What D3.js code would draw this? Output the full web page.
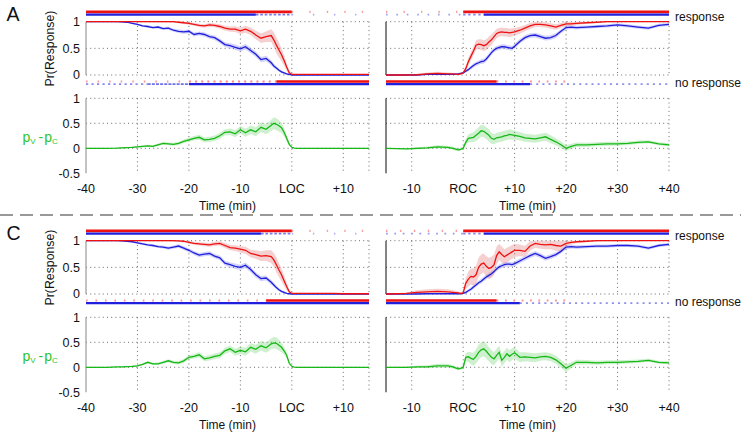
<!DOCTYPE html>
<html><head><meta charset="utf-8">
<script src="https://cdn.jsdelivr.net/npm/d3@7"></script>
<style>body{margin:0;background:#fff} svg{display:block}</style>
</head><body><svg id="c" width="741" height="434"></svg>
<script>
// ---------- data ----------
const timeLeft = [-40,-38,-36,-34,-33,-32,-31,-30,-29,-28,-27,-26,-25,-24,-23,-22,-21,-20,-19,-18,-17,-16,-15,-14,-13,-12,-11,-10,-9,-8,-7,-6,-5,-4,-3.5,-3,-2.5,-2,-1.5,-1,-0.5,0,0.5,1,2,4,6,8,10,12,15];
const timeRight = [-15,-13,-11,-9,-7,-5,-3,-2,-1,-0.5,0,0.5,1,1.5,2,2.5,3,3.5,4,4.5,5,5.5,6,6.5,7,7.5,8,8.5,9,9.5,10,11,12,13,14,15,16,17,18,19,20,21,22,24,26,28,30,32,34,36,38,40];
const xTicksLeft = [-40,-30,-20,-10,0,10];
const xTickLabelsLeft = ["-40","-30","-20","-10","LOC","+10"];
const xTicksRight = [-10,0,10,20,30,40];
const xTickLabelsRight = ["-10","ROC","+10","+20","+30","+40"];
const yTicksTop = [0,0.5,1];
const yTickLabelsTop = ["0","0.5","1"];
const yTicksBottom = [-0.5,0,0.5,1];
const yTickLabelsBottom = ["-0.5","0","0.5","1"];
const panelLabels = ["A","C"];

// Panel A, left (aligned to LOC)
const A_L_red = [1,1,1,1,1,1,1,1,1,1, 1,1,1,1,1,0.99,0.98,0.97,0.95,0.93, 0.92,0.94,0.93,0.91,0.88,0.86,0.86,0.83,0.86,0.82, 0.75,0.69,0.72,0.74,0.66,0.56,0.47,0.38,0.27,0.15, 0.04,0.01,0.01,0.01,0.01,0.01,0.01,0.01,0.01,0.01,0.01];
const A_L_redErr = [0,0,0.002,0.004,0.005,0.006,0.007,0.008,0.01,0.01, 0.012,0.014,0.015,0.016,0.018,0.02,0.022,0.025,0.027,0.03, 0.032,0.034,0.036,0.04,0.045,0.05,0.055,0.06,0.065,0.07, 0.08,0.09,0.1,0.12,0.14,0.15,0.14,0.12,0.1,0.07, 0.04,0.015,0.008,0.006,0.005,0.005,0.005,0.005,0.005,0.005,0.005];
const A_L_blue = [1,1,1,1,0.995,0.99,0.97,0.95,0.92,0.91, 0.89,0.9,0.87,0.88,0.84,0.82,0.81,0.82,0.76,0.78, 0.76,0.72,0.7,0.64,0.57,0.55,0.52,0.49,0.53,0.46, 0.39,0.29,0.31,0.23,0.17,0.13,0.09,0.06,0.04,0.02, 0.01,0,0,0,0,0,0,0,0,0,0];
const A_L_blueErr = [0,0.002,0.004,0.006,0.008,0.01,0.013,0.016,0.02,0.022, 0.024,0.026,0.028,0.03,0.03,0.032,0.034,0.035,0.036,0.038, 0.04,0.04,0.042,0.044,0.046,0.048,0.05,0.05,0.05,0.05, 0.05,0.05,0.05,0.045,0.04,0.035,0.03,0.025,0.02,0.015, 0.01,0.005,0.004,0.003,0.003,0.003,0.003,0.003,0.003,0.003,0.003];
const A_L_green = [0,0,0,0.005,0.01,0.015,0.02,0.03,0.04,0.05, 0.04,0.07,0.1,0.09,0.08,0.1,0.14,0.17,0.2,0.22, 0.17,0.18,0.2,0.25,0.32,0.33,0.29,0.37,0.31,0.37, 0.33,0.42,0.38,0.46,0.5,0.48,0.45,0.41,0.32,0.2, 0.08,0.02,0.005,0,0,0,0,0,0,0,0];
const A_L_greenErr = [0,0.002,0.004,0.008,0.01,0.012,0.014,0.016,0.018,0.02, 0.022,0.024,0.026,0.028,0.03,0.033,0.036,0.04,0.045,0.05, 0.05,0.052,0.055,0.058,0.06,0.065,0.07,0.075,0.08,0.085, 0.09,0.095,0.1,0.11,0.12,0.12,0.115,0.1,0.08,0.06, 0.03,0.012,0.006,0.004,0.004,0.004,0.004,0.004,0.004,0.004,0.004];

// Panel A, right (aligned to ROC)
const A_R_red = [0,0,0,0.005,0.02,0.03,0.02,0.02,0.01,0.02, 0.04,0.12,0.25,0.35,0.45,0.56,0.58,0.57,0.55,0.57, 0.62,0.66,0.72,0.78,0.8,0.81,0.8,0.8,0.79,0.8, 0.81,0.84,0.88,0.92,0.95,0.95,0.94,0.92,0.9,0.93, 0.96,0.96,0.97,0.98,0.99,1,1,1,1,1,1,1];
const A_R_redErr = [0.003,0.005,0.008,0.015,0.025,0.03,0.025,0.02,0.015,0.015, 0.02,0.05,0.07,0.08,0.08,0.09,0.09,0.1,0.1,0.1, 0.1,0.1,0.09,0.09,0.08,0.08,0.08,0.08,0.08,0.075, 0.07,0.065,0.06,0.055,0.05,0.05,0.05,0.05,0.05,0.045, 0.04,0.035,0.03,0.02,0.015,0.01,0.008,0.006,0.005,0.005,0.005,0.005];
const A_R_blue = [0,0,0,0,0.01,0.01,0.01,0.01,0.02,0.03, 0.04,0.07,0.1,0.14,0.18,0.21,0.23,0.25,0.26,0.3, 0.36,0.42,0.47,0.5,0.52,0.53,0.53,0.52,0.51,0.5, 0.54,0.63,0.7,0.74,0.75,0.72,0.69,0.7,0.74,0.82, 0.89,0.9,0.89,0.9,0.91,0.92,0.94,0.92,0.9,0.88,0.93,0.95];
const A_R_blueErr = [0.003,0.004,0.005,0.006,0.008,0.01,0.01,0.01,0.012,0.015, 0.02,0.025,0.03,0.035,0.04,0.04,0.04,0.045,0.045,0.045, 0.045,0.045,0.045,0.045,0.045,0.045,0.045,0.045,0.045,0.045, 0.045,0.045,0.045,0.045,0.045,0.045,0.045,0.045,0.045,0.04, 0.04,0.035,0.035,0.03,0.03,0.03,0.03,0.03,0.03,0.03,0.03,0.03];
const A_R_green = [0,-0.005,-0.01,0,0.01,0.03,0.02,0,-0.03,-0.02, 0,0.12,0.2,0.21,0.22,0.26,0.3,0.35,0.34,0.3, 0.26,0.2,0.18,0.21,0.22,0.23,0.25,0.26,0.28,0.27, 0.26,0.24,0.21,0.2,0.19,0.21,0.23,0.18,0.13,0.07, 0,0.04,0.07,0.07,0.08,0.09,0.09,0.1,0.12,0.13,0.09,0.07];
const A_R_greenErr = [0.005,0.01,0.015,0.02,0.025,0.03,0.03,0.03,0.03,0.03, 0.03,0.06,0.08,0.09,0.1,0.11,0.12,0.12,0.12,0.12, 0.12,0.11,0.1,0.1,0.1,0.1,0.1,0.1,0.1,0.1, 0.09,0.085,0.08,0.08,0.08,0.08,0.08,0.08,0.07,0.065, 0.06,0.05,0.045,0.04,0.04,0.04,0.04,0.035,0.035,0.03,0.03,0.03];

// Panel C, left
const C_L_red = [1,1,1,1,1,1,1,1,1,1, 1,1,1,1,1,0.995,0.99,0.97,0.95,0.94, 0.93,0.92,0.94,0.95,0.91,0.87,0.86,0.84,0.82,0.76, 0.74,0.71,0.72,0.7,0.64,0.55,0.45,0.36,0.25,0.14, 0.04,0.01,0.01,0.01,0.01,0.01,0.01,0.01,0.005,0.005,0.005];
const C_L_redErr = [0,0,0.002,0.004,0.005,0.006,0.007,0.008,0.01,0.01, 0.012,0.014,0.015,0.016,0.018,0.02,0.022,0.025,0.028,0.03, 0.032,0.035,0.038,0.04,0.045,0.05,0.055,0.06,0.065,0.07, 0.08,0.09,0.1,0.12,0.13,0.14,0.13,0.12,0.1,0.07, 0.04,0.015,0.008,0.006,0.005,0.005,0.005,0.005,0.005,0.005,0.005];
const C_L_blue = [1,1,1,1,0.995,0.99,0.98,0.96,0.94,0.92, 0.91,0.89,0.88,0.86,0.88,0.9,0.86,0.82,0.77,0.73, 0.75,0.76,0.71,0.68,0.58,0.55,0.52,0.5,0.54,0.46, 0.36,0.29,0.3,0.22,0.17,0.12,0.08,0.05,0.03,0.01, 0.005,0,0,0,0,0,0,0,0,0,0];
const C_L_blueErr = [0,0.002,0.004,0.006,0.008,0.01,0.013,0.016,0.02,0.022, 0.024,0.026,0.028,0.03,0.031,0.032,0.034,0.036,0.038,0.04, 0.04,0.041,0.042,0.044,0.046,0.048,0.05,0.05,0.05,0.05, 0.05,0.05,0.048,0.045,0.04,0.035,0.03,0.025,0.02,0.015, 0.01,0.005,0.004,0.003,0.003,0.003,0.003,0.003,0.003,0.003,0.003];
const C_L_green = [0,0,0,0.01,0.01,0.015,0.02,0.03,0.06,0.1, 0.07,0.07,0.1,0.13,0.1,0.09,0.13,0.2,0.22,0.25, 0.17,0.19,0.22,0.24,0.33,0.37,0.3,0.34,0.31,0.4, 0.36,0.43,0.39,0.47,0.49,0.48,0.44,0.4,0.33,0.24, 0.08,0.02,0.005,0,0,0,0,0,0,0,0];
const C_L_greenErr = [0,0.002,0.004,0.008,0.01,0.012,0.014,0.016,0.02,0.022, 0.024,0.026,0.028,0.03,0.032,0.035,0.038,0.042,0.046,0.05, 0.05,0.053,0.056,0.06,0.062,0.066,0.07,0.075,0.08,0.085, 0.09,0.095,0.1,0.11,0.115,0.115,0.11,0.1,0.08,0.06, 0.03,0.012,0.006,0.004,0.004,0.004,0.004,0.004,0.004,0.004,0.004];

// Panel C, right
const C_R_red = [0,0.005,0.01,0.03,0.04,0.05,0.04,0.03,0.02,0.01, 0.02,0.2,0.28,0.33,0.32,0.36,0.5,0.56,0.58,0.52, 0.48,0.5,0.55,0.72,0.79,0.74,0.7,0.73,0.76,0.79, 0.82,0.82,0.8,0.9,0.95,0.93,0.92,0.93,0.91,0.9, 0.95,0.97,0.98,0.99,1,1,1,1,1,1,1,1];
const C_R_redErr = [0.005,0.01,0.02,0.04,0.05,0.05,0.05,0.04,0.03,0.02, 0.03,0.1,0.14,0.15,0.16,0.17,0.18,0.18,0.18,0.19, 0.2,0.2,0.19,0.17,0.15,0.15,0.14,0.14,0.13,0.13, 0.12,0.11,0.1,0.09,0.08,0.08,0.08,0.09,0.1,0.1, 0.06,0.04,0.03,0.02,0.015,0.01,0.008,0.006,0.005,0.005,0.005,0.005];
const C_R_blue = [0,0,0,0,0.005,0.005,0.005,0.005,0.005,0.005, 0.01,0.03,0.06,0.09,0.13,0.17,0.21,0.24,0.28,0.32, 0.35,0.38,0.42,0.47,0.51,0.53,0.55,0.56,0.56,0.55, 0.57,0.62,0.67,0.72,0.76,0.72,0.67,0.7,0.74,0.8, 0.88,0.89,0.88,0.89,0.9,0.9,0.91,0.91,0.9,0.86,0.91,0.93];
const C_R_blueErr = [0.003,0.004,0.005,0.006,0.008,0.01,0.01,0.01,0.012,0.015, 0.02,0.025,0.03,0.035,0.04,0.04,0.042,0.045,0.045,0.045, 0.045,0.045,0.045,0.045,0.045,0.045,0.045,0.045,0.045,0.045, 0.045,0.045,0.045,0.045,0.045,0.045,0.045,0.045,0.045,0.04, 0.04,0.035,0.035,0.03,0.03,0.03,0.03,0.03,0.03,0.03,0.03,0.03];
const C_R_green = [0,0,0,0.01,0.01,0.03,0.03,0.01,-0.03,-0.02, 0,0.2,0.21,0.18,0.16,0.22,0.3,0.35,0.37,0.32, 0.26,0.2,0.17,0.24,0.3,0.14,0.2,0.27,0.22,0.26, 0.29,0.2,0.21,0.2,0.19,0.21,0.22,0.2,0.15,0.07, -0.02,0.04,0.1,0.1,0.09,0.1,0.1,0.11,0.12,0.14,0.1,0.09];
const C_R_greenErr = [0.005,0.01,0.015,0.02,0.03,0.04,0.04,0.035,0.03,0.03, 0.04,0.08,0.1,0.12,0.13,0.14,0.15,0.15,0.15,0.15, 0.14,0.14,0.13,0.13,0.13,0.13,0.12,0.12,0.12,0.12, 0.11,0.1,0.09,0.09,0.09,0.08,0.08,0.08,0.08,0.08, 0.08,0.06,0.05,0.045,0.04,0.04,0.04,0.035,0.035,0.03,0.03,0.03];

// Trial rasters: [start time, end time, density of marks]
const A_L_respRed = [[-40,0,1],[0,15,0.12]];
const A_L_respBlue = [[-40,-7,1],[-7,0,0.55],[0,15,0.1]];
const A_L_noRed = [[-40,-20,0.18],[-20,-3,0.35],[-3,15,1]];
const A_L_noBlue = [[-40,-28,0.4],[-28,-20,0.65],[-20,15,1]];
const A_R_respRed = [[-15,0,0.12],[0,40,1]];
const A_R_respBlue = [[-15,0,0.2],[0,4,0.45],[4,40,1]];
const A_R_noRed = [[-15,6.5,1],[6.5,21,0.25]];
const A_R_noBlue = [[-15,13,1],[13,40,0.35]];
const C_L_respRed = [[-40,0,1],[0,15,0.12]];
const C_L_respBlue = [[-40,-6,1],[-6,0,0.55],[0,15,0.1]];
const C_L_noRed = [[-40,-5,0.22],[-5,15,1]];
const C_L_noBlue = [[-40,15,0.95]];
const C_R_respRed = [[-15,0,0.15],[0,40,1]];
const C_R_respBlue = [[-15,0,0.25],[0,4,0.45],[4,40,1]];
const C_R_noRed = [[-15,6.5,1],[6.5,21,0.25]];
const C_R_noBlue = [[-15,11,1],[11,40,0.35]];

// ---------- drawing ----------
const FONT = '"Liberation Sans", Arial, Helvetica, sans-serif';
const RED = "#ee1111", BLUE = "#1f1fdd", GREEN = "#16b816";
const svg = d3.select("#c");

const xLeft = d3.scaleLinear().domain([-40, 15]).range([86, 369]);
const xRight = d3.scaleLinear().domain([-15, 40]).range([386, 669]);

const rows = [
  { label: panelLabels[0], off: 0,
    L: {red:A_L_red, redErr:A_L_redErr, blue:A_L_blue, blueErr:A_L_blueErr, green:A_L_green, greenErr:A_L_greenErr,
        respRed:A_L_respRed, respBlue:A_L_respBlue, noRed:A_L_noRed, noBlue:A_L_noBlue},
    R: {red:A_R_red, redErr:A_R_redErr, blue:A_R_blue, blueErr:A_R_blueErr, green:A_R_green, greenErr:A_R_greenErr,
        respRed:A_R_respRed, respBlue:A_R_respBlue, noRed:A_R_noRed, noBlue:A_R_noBlue} },
  { label: panelLabels[1], off: 219,
    L: {red:C_L_red, redErr:C_L_redErr, blue:C_L_blue, blueErr:C_L_blueErr, green:C_L_green, greenErr:C_L_greenErr,
        respRed:C_L_respRed, respBlue:C_L_respBlue, noRed:C_L_noRed, noBlue:C_L_noBlue},
    R: {red:C_R_red, redErr:C_R_redErr, blue:C_R_blue, blueErr:C_R_blueErr, green:C_R_green, greenErr:C_R_greenErr,
        respRed:C_R_respRed, respBlue:C_R_respBlue, noRed:C_R_noRed, noBlue:C_R_noBlue} }
];

const clamp01 = v => Math.max(0, Math.min(1, v));

rows.forEach(row => {
  const o = row.off;
  const yTop = d3.scaleLinear().domain([0, 1]).range([75 + o, 21.7 + o]);
  const yBot = d3.scaleLinear().domain([-0.5, 1]).range([173.3 + o, 98.3 + o]);

  const sides = [
    {d: row.L, x: xLeft, t: timeLeft, ticks: xTicksLeft, labels: xTickLabelsLeft, left: true},
    {d: row.R, x: xRight, t: timeRight, ticks: xTicksRight, labels: xTickLabelsRight, left: false}
  ];

  sides.forEach(s => {
    const g = svg.append("g");
    const x = s.x, d = s.d, t = s.t;
    const [dx0, dx1] = x.domain();
    const [px0, px1] = x.range();
    const vgrid = Array.from(new Set(s.ticks.filter(v => v !== dx0).concat([dx1])));

    // grid (dotted)
    const grid = g.append("g").attr("stroke", "#444").attr("stroke-width", 0.8).attr("stroke-dasharray", "1,3.2");
    vgrid.forEach(v => {
      grid.append("line").attr("x1", x(v)).attr("x2", x(v)).attr("y1", yTop(1)).attr("y2", yTop(0));
      grid.append("line").attr("x1", x(v)).attr("x2", x(v)).attr("y1", yBot(1)).attr("y2", yBot(-0.5));
    });
    yTicksTop.forEach(v => grid.append("line").attr("x1", px0).attr("x2", px1).attr("y1", yTop(v)).attr("y2", yTop(v)));
    [0, 0.5, 1].forEach(v => grid.append("line").attr("x1", px0).attr("x2", px1).attr("y1", yBot(v)).attr("y2", yBot(v)));

    // y axis lines
    const axCol = s.left ? "#9a9a9a" : "#333";
    g.append("line").attr("x1", px0).attr("x2", px0).attr("y1", yTop(1)).attr("y2", yTop(0)).attr("stroke", axCol).attr("stroke-width", 1.2);
    g.append("line").attr("x1", px0).attr("x2", px0).attr("y1", yBot(1)).attr("y2", yBot(-0.5)).attr("stroke", axCol).attr("stroke-width", 1.2);

    // rasters: dense stretches are solid, sparse stretches are broken into scattered marks
    const rasters = [
      {segs: d.respRed, col: RED, yc: 11.9 + o, h: 2.6},
      {segs: d.respBlue, col: BLUE, yc: 14.7 + o, h: 2.2},
      {segs: d.noRed, col: RED, yc: 81.5 + o, h: 2.3},
      {segs: d.noBlue, col: BLUE, yc: 84.1 + o, h: 2.2}
    ];
    rasters.forEach(r => {
      g.append("g").selectAll("line").data(r.segs).join("line")
        .attr("x1", e => x(e[0])).attr("x2", e => x(e[1]))
        .attr("y1", r.yc).attr("y2", r.yc)
        .attr("stroke", r.col).attr("stroke-width", e => e[2] >= 0.9 ? r.h : r.h * 0.8)
        .attr("stroke-opacity", e => e[2] >= 0.9 ? 1 : 0.35 + 0.45 * e[2])
        .attr("stroke-dasharray", e => e[2] >= 0.9 ? null : `${(1 + 3 * e[2]).toFixed(2)},${(2.2 * (1 - e[2]) / e[2]).toFixed(2)}`);
    });

    const idx = d3.range(t.length);
    const bandTop = (v, e) => d3.area().x(i => x(t[i])).y0(i => yTop(clamp01(v[i] - e[i]))).y1(i => yTop(clamp01(v[i] + e[i])));
    const lineTop = v => d3.line().x(i => x(t[i])).y(i => yTop(v[i]));

    g.append("path").datum(idx).attr("d", bandTop(d.blue, d.blueErr)).attr("fill", "rgb(110,110,235)").attr("fill-opacity", 0.3);
    g.append("path").datum(idx).attr("d", bandTop(d.red, d.redErr)).attr("fill", "rgb(225,110,110)").attr("fill-opacity", 0.32);
    g.append("path").datum(idx).attr("d", lineTop(d.blue)).attr("fill", "none").attr("stroke", BLUE).attr("stroke-width", 1.3);
    g.append("path").datum(idx).attr("d", lineTop(d.red)).attr("fill", "none").attr("stroke", RED).attr("stroke-width", 1.3);

    // green difference
    g.append("path").datum(idx)
      .attr("d", d3.area().x(i => x(t[i])).y0(i => yBot(d.green[i] - d.greenErr[i])).y1(i => yBot(d.green[i] + d.greenErr[i])))
      .attr("fill", "rgb(80,200,80)").attr("fill-opacity", 0.28);
    g.append("path").datum(idx)
      .attr("d", d3.line().x(i => x(t[i])).y(i => yBot(d.green[i])))
      .attr("fill", "none").attr("stroke", GREEN).attr("stroke-width", 1.3);

    // x tick labels
    g.append("g").selectAll("text").data(s.ticks).join("text")
      .attr("x", v => x(v)).attr("y", 192.5 + o)
      .attr("text-anchor", "middle").attr("font-family", FONT).attr("font-size", 12.5).attr("fill", "#111")
      .text((v, i) => s.labels[i]);
    g.append("text").attr("x", (px0 + px1) / 2).attr("y", 209.5 + o)
      .attr("text-anchor", "middle").attr("font-family", FONT).attr("font-size", 12).attr("fill", "#111")
      .text("Time (min)");

    if (s.left) {
      g.append("g").selectAll("text").data(yTicksTop).join("text")
        .attr("x", 80).attr("y", v => yTop(v) + 4.3).attr("text-anchor", "end")
        .attr("font-family", FONT).attr("font-size", 12.5).attr("fill", "#111")
        .text((v, i) => yTickLabelsTop[i]);
      g.append("g").selectAll("text").data(yTicksBottom).join("text")
        .attr("x", 80).attr("y", v => yBot(v) + 4.3).attr("text-anchor", "end")
        .attr("font-family", FONT).attr("font-size", 12.5).attr("fill", "#111")
        .text((v, i) => yTickLabelsBottom[i]);
    }
  });

  // labels
  svg.append("text").attr("x", 6.5).attr("y", 21 + o).attr("font-family", FONT).attr("font-size", 19.5).attr("fill", "#111").text(row.label);
  svg.append("text").attr("transform", `translate(53.5,${48.5 + o}) rotate(-90)`)
    .attr("text-anchor", "middle").attr("font-family", FONT).attr("font-size", 12.3).attr("fill", "#111").text("Pr(Response)");
  svg.append("text").attr("x", 675).attr("y", 21.3 + o).attr("font-family", FONT).attr("font-size", 12).attr("fill", "#111").text("response");
  svg.append("text").attr("x", 675).attr("y", 87 + o).attr("font-family", FONT).attr("font-size", 12).attr("fill", "#111").text("no response");

  const lab = svg.append("text").attr("y", 141.5 + o).attr("font-family", FONT).attr("fill", "#2fc42f");
  lab.append("tspan").attr("x", 22.5).attr("font-size", 14).text("p");
  lab.append("tspan").attr("x", 30.3).attr("dy", 2.5).attr("font-size", 8).text("V");
  lab.append("tspan").attr("x", 38.5).attr("dy", -2.5).attr("font-size", 14).text("-");
  lab.append("tspan").attr("x", 44.3).attr("font-size", 14).text("p");
  lab.append("tspan").attr("x", 52).attr("dy", 2.5).attr("font-size", 8).text("C");
});

// separator
svg.append("line").attr("x1", 0).attr("x2", 741).attr("y1", 215).attr("y2", 215)
  .attr("stroke", "#333").attr("stroke-width", 1).attr("stroke-dasharray", "13,7");
</script></body></html>
